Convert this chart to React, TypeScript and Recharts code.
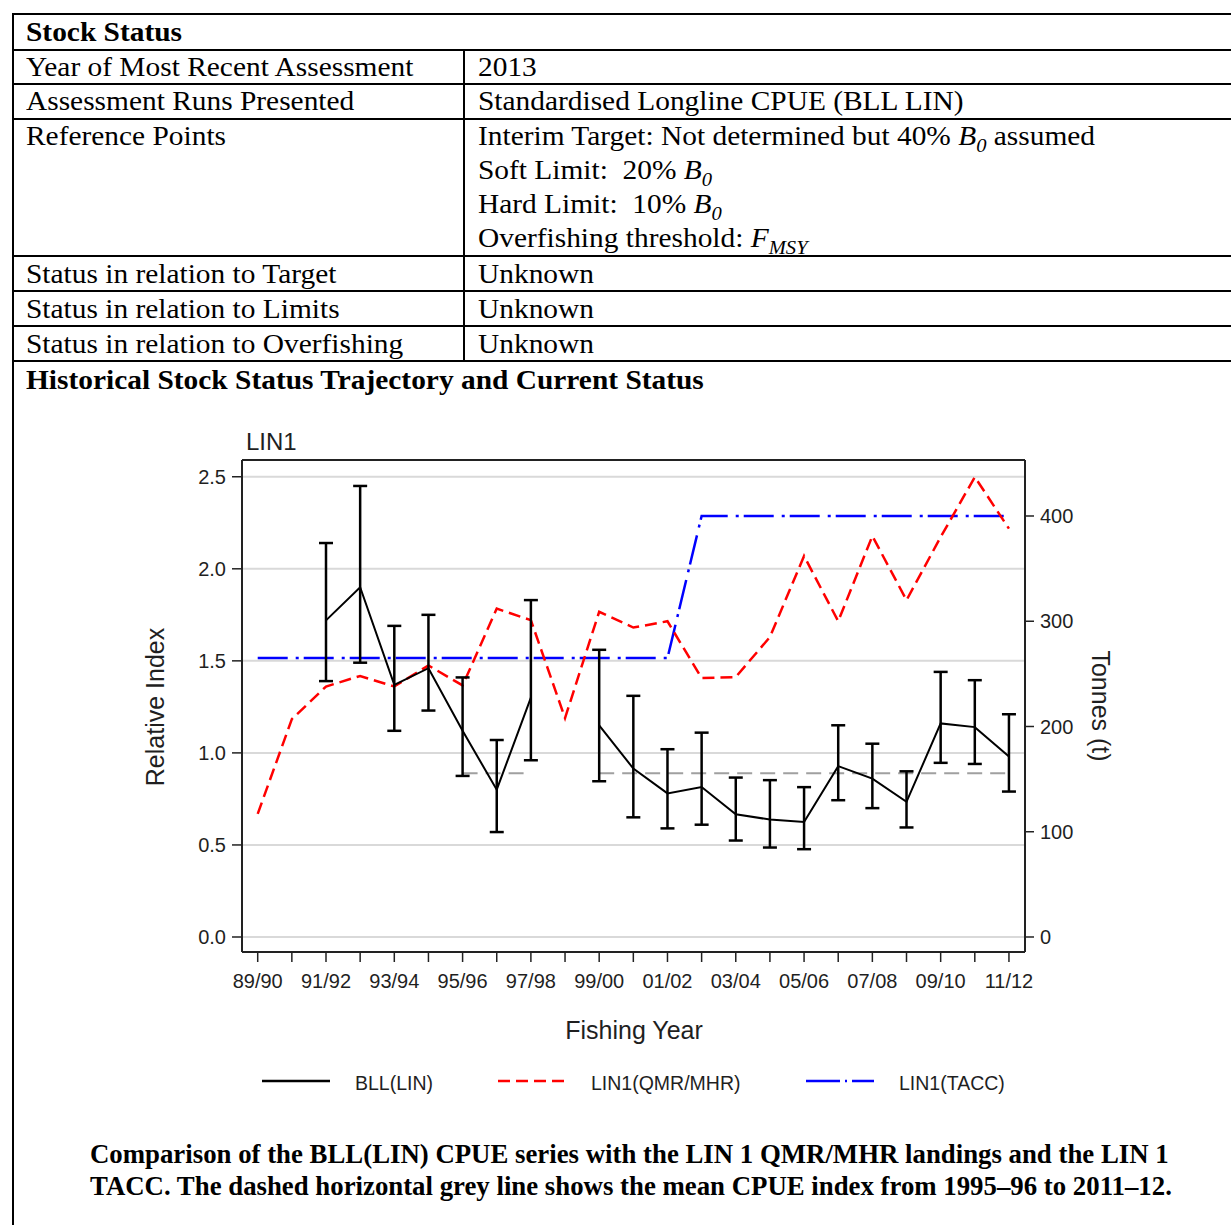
import React from "react";
import {
  ComposedChart,
  Line,
  XAxis,
  YAxis,
  CartesianGrid,
  ErrorBar,
  ReferenceLine,
} from "recharts";

// fishing years on the x axis
const seasons = [
  "89/90", "90/91", "91/92", "92/93", "93/94", "94/95", "95/96", "96/97",
  "97/98", "98/99", "99/00", "00/01", "01/02", "02/03", "03/04", "04/05",
  "05/06", "06/07", "07/08", "08/09", "09/10", "10/11", "11/12",
];

// BLL(LIN) standardised CPUE with 95% bounds
const cpue = [null, null, 1.72, 1.9, 1.37, 1.46, 1.12, 0.8, 1.3, null, 1.15, 0.915, 0.78, 0.815, 0.667, 0.638, 0.625, 0.928, 0.86, 0.734, 1.16, 1.14, 0.98];
const cpueLower = [null, null, 1.39, 1.49, 1.12, 1.23, 0.875, 0.57, 0.96, null, 0.846, 0.65, 0.59, 0.61, 0.524, 0.486, 0.477, 0.743, 0.7, 0.595, 0.946, 0.94, 0.79];
const cpueUpper = [null, null, 2.14, 2.45, 1.69, 1.75, 1.41, 1.07, 1.83, null, 1.56, 1.31, 1.02, 1.11, 0.866, 0.852, 0.814, 1.15, 1.05, 0.9, 1.44, 1.395, 1.21];

// mean CPUE 1995-96 to 2011-12
const meanCpue = 0.89;
const meanStart = 6;

// LIN1 QMR/MHR landings and TACC (t)
const landings = [117, 207, 238, 248, 238, 258, 239, 312, 301, 208, 309, 294, 300, 246, 247, 285, 362, 300, 381, 320, 380, 437, 388];
const tacc = [265, 265, 265, 265, 265, 265, 265, 265, 265, 265, 265, 265, 265, 400, 400, 400, 400, 400, 400, 400, 400, 400, 400];

const leftTicks = [0, 0.5, 1, 1.5, 2, 2.5];
const rightTicks = [0, 100, 200, 300, 400];

const data = seasons.map((s, i) => ({
  idx: i,
  season: s,
  cpue: cpue[i],
  err: cpue[i] == null ? null : [cpue[i]! - cpueLower[i]!, cpueUpper[i]! - cpue[i]!],
  mean: i >= meanStart && cpue[i] != null ? meanCpue : null,
  landings: landings[i],
  tacc: tacc[i],
}));

const SERIF = "'Liberation Serif', 'Times New Roman', serif";
const SANS = "'Liberation Sans', Arial, sans-serif";
const INK = "#1f1f1f";

function Txt({ x, base, size, bold, family = SERIF, children, color = "#000", sx = 1 }: any) {
  const lh = Math.round(size * 1.2);
  const asc = family === SERIF ? 0.891 : 0.905;
  const desc = family === SERIF ? 0.216 : 0.212;
  const top = base - ((lh - (asc + desc) * size) / 2 + asc * size);
  return (
    <div
      style={{
        position: "absolute",
        left: x,
        top,
        fontFamily: family,
        fontSize: size,
        lineHeight: `${lh}px`,
        fontWeight: bold ? "bold" : "normal",
        whiteSpace: "pre",
        color,
        transform: sx !== 1 ? `scaleX(${sx})` : undefined,
        transformOrigin: "0 0",
      }}
    >
      {children}
    </div>
  );
}

function Sub({ children }: any) {
  return (
    <span style={{ fontSize: "0.7em", position: "relative", top: 7 }}>{children}</span>
  );
}

function HLine({ y }: { y: number }) {
  return <div style={{ position: "absolute", left: 12, top: y - 1, width: 1240, height: 2, background: "#000" }} />;
}

function LegendItem({ x, label, color, dash }: any) {
  return (
    <>
      <svg style={{ position: "absolute", left: x, top: 1076 }} width={68} height={10}>
        <line x1={0} y1={5} x2={68} y2={5} stroke={color} strokeWidth={2.5} strokeDasharray={dash} />
      </svg>
      <Txt x={x + 93} base={1090} size={19.5} family={SANS} color={INK}>
        {label}
      </Txt>
    </>
  );
}

const TS = 1.05; // table text runs slightly wide

export default function App() {
  const rowLines = [13.5, 49.5, 84, 118.5, 256, 291, 326, 361];
  const rowsLeft = [
    { t: "Year of Most Recent Assessment", b: 76.7, r: "2013" },
    { t: "Assessment Runs Presented", b: 110.7, r: "Standardised Longline CPUE (BLL LIN)" },
    { t: "Status in relation to Target", b: 283.5, r: "Unknown" },
    { t: "Status in relation to Limits", b: 318.5, r: "Unknown" },
    { t: "Status in relation to Overfishing", b: 353.5, r: "Unknown" },
  ];

  return (
    <div
      style={{
        position: "absolute",
        left: 0,
        top: 0,
        width: 1231,
        height: 1225,
        overflow: "hidden",
        background: "#fff",
      }}
    >
      {/* table frame */}
      {rowLines.map((y) => (
        <HLine key={y} y={y} />
      ))}
      <div style={{ position: "absolute", left: 12, top: 12.5, width: 2, height: 1300, background: "#000" }} />
      <div style={{ position: "absolute", left: 462.5, top: 49.5, width: 2, height: 312, background: "#000" }} />

      <Txt x={26} base={41.7} size={28} bold sx={TS}>Stock Status</Txt>
      {rowsLeft.map((r) => (
        <React.Fragment key={r.t}>
          <Txt x={26} base={r.b} size={28} sx={TS}>{r.t}</Txt>
          <Txt x={478} base={r.b} size={28} sx={TS}>{r.r}</Txt>
        </React.Fragment>
      ))}
      <Txt x={26} base={145} size={28} sx={TS}>Reference Points</Txt>
      <Txt x={478} base={145} size={28} sx={TS}>
        Interim Target: Not determined but 40% <i>B<Sub>0</Sub></i> assumed
      </Txt>
      <Txt x={478} base={179} size={28} sx={TS}>
        Soft Limit:  20% <i>B<Sub>0</Sub></i>
      </Txt>
      <Txt x={478} base={213} size={28} sx={TS}>
        Hard Limit:  10% <i>B<Sub>0</Sub></i>
      </Txt>
      <Txt x={478} base={247} size={28} sx={TS}>
        Overfishing threshold: <i>F<Sub>MSY</Sub></i>
      </Txt>
      <Txt x={26} base={389.5} size={28} bold sx={TS}>Historical Stock Status Trajectory and Current Status</Txt>

      {/* chart titles */}
      <Txt x={246} base={450} size={24} family={SANS} color={INK}>LIN1</Txt>
      <div
        style={{
          position: "absolute",
          left: 155,
          top: 707,
          transform: "translate(-50%, -50%) rotate(-90deg)",
          fontFamily: SANS,
          fontSize: 25,
          color: INK,
          whiteSpace: "nowrap",
        }}
      >
        Relative Index
      </div>
      <div
        style={{
          position: "absolute",
          left: 1100,
          top: 706,
          transform: "translate(-50%, -50%) rotate(90deg)",
          fontFamily: SANS,
          fontSize: 25,
          color: INK,
          whiteSpace: "nowrap",
        }}
      >
        Tonnes (t)
      </div>
      <div
        style={{
          position: "absolute",
          left: 634,
          top: 1030,
          transform: "translate(-50%, -50%)",
          fontFamily: SANS,
          fontSize: 25,
          color: INK,
          whiteSpace: "nowrap",
        }}
      >
        Fishing Year
      </div>

      <div style={{ position: "absolute", left: 130, top: 420 }}>
        <ComposedChart width={1000} height={620} data={data} margin={{ top: 40, right: 0, bottom: 0, left: 0 }}>
          <CartesianGrid yAxisId="left" vertical={false} stroke="#d9d9d9" strokeWidth={2} />
          <XAxis
            dataKey="idx"
            type="number"
            domain={[-0.46, 22.47]}
            allowDataOverflow
            ticks={seasons.map((_, i) => i)}
            interval={0}
            tickFormatter={(v: number) => (v % 2 === 0 ? seasons[v] : "")}
            height={88}
            tickSize={10}
            tickMargin={12}
            axisLine={{ stroke: "#222", strokeWidth: 2 }}
            tickLine={{ stroke: "#222", strokeWidth: 1.5 }}
            tick={{ fontSize: 20, fill: INK, fontFamily: SANS }}
          />
          <YAxis
            yAxisId="left"
            domain={[-0.0815, 2.591]}
            allowDataOverflow
            ticks={leftTicks}
            tickFormatter={(v: number) => v.toFixed(1)}
            width={112}
            tickSize={10}
            tickMargin={6}
            axisLine={{ stroke: "#222", strokeWidth: 2 }}
            tickLine={{ stroke: "#222", strokeWidth: 1.5 }}
            tick={{ fontSize: 20, fill: INK, fontFamily: SANS }}
          />
          <YAxis
            yAxisId="right"
            orientation="right"
            domain={[-14.26, 453.2]}
            allowDataOverflow
            ticks={rightTicks}
            width={105}
            tickSize={9}
            tickMargin={6}
            axisLine={{ stroke: "#222", strokeWidth: 2 }}
            tickLine={{ stroke: "#222", strokeWidth: 1.5 }}
            tick={{ fontSize: 20, fill: INK, fontFamily: SANS }}
          />
          <ReferenceLine yAxisId="left" y={2.591} stroke="#222" strokeWidth={2} />
          <Line
            yAxisId="left"
            dataKey="mean"
            stroke="#a0a0a0"
            strokeWidth={2}
            strokeDasharray="15 8"
            dot={false}
            activeDot={false}
            isAnimationActive={false}
          />
          <Line
            yAxisId="right"
            dataKey="tacc"
            stroke="#0000ff"
            strokeWidth={2.5}
            strokeDasharray="30 8 3 5"
            dot={false}
            activeDot={false}
            isAnimationActive={false}
          />
          <Line
            yAxisId="right"
            dataKey="landings"
            stroke="#ff0000"
            strokeWidth={2.5}
            strokeDasharray="12 6"
            dot={false}
            activeDot={false}
            isAnimationActive={false}
          />
          <Line
            yAxisId="left"
            dataKey="cpue"
            stroke="#000"
            strokeWidth={2}
            dot={false}
            activeDot={false}
            isAnimationActive={false}
          >
            <ErrorBar dataKey="err" direction="y" width={7} stroke="#000" strokeWidth={2.5} />
          </Line>
        </ComposedChart>
      </div>

      {/* legend */}
      <LegendItem x={262} label="BLL(LIN)" color="#000" />
      <LegendItem x={498} label="LIN1(QMR/MHR)" color="#ff0000" dash="12 6" />
      <LegendItem x={806} label="LIN1(TACC)" color="#0000ff" dash="34 5 2 5" />

      {/* caption */}
      <Txt x={90} base={1163} size={26.8} bold>
        Comparison of the BLL(LIN) CPUE series with the LIN 1 QMR/MHR landings and the LIN 1
      </Txt>
      <Txt x={90} base={1195} size={26.8} bold>
        TACC. The dashed horizontal grey line shows the mean CPUE index from 1995–96 to 2011–12.
      </Txt>
    </div>
  );
}
